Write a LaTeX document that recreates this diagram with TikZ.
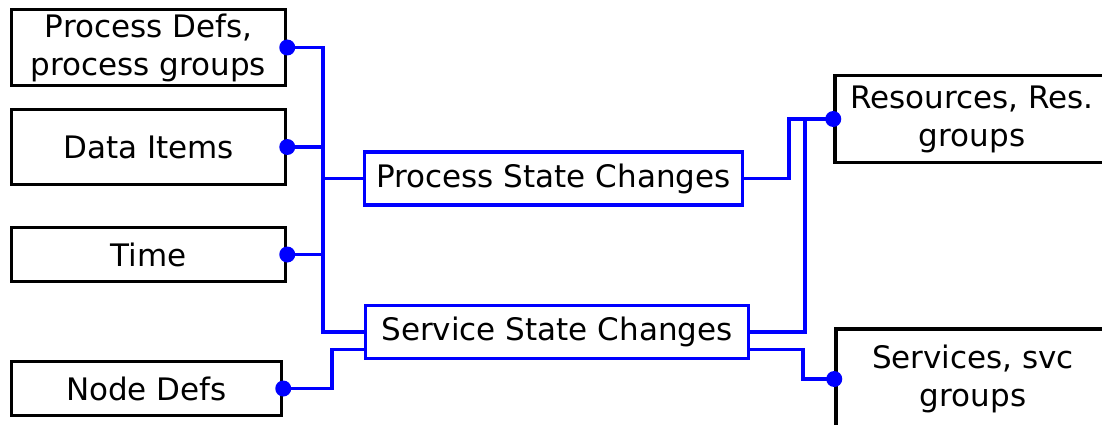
\documentclass[tikz,border=0pt]{standalone}
\usepackage{fontspec}
\setmainfont{DejaVu Sans}
\usetikzlibrary{calc}
\definecolor{linkblue}{RGB}{0,0,255}
\tikzset{
  srcbox/.style={draw=black, line width=3.5pt, inner sep=0pt, align=center,
    font=\fontsize{31}{38}\selectfont},
  chgbox/.style={draw=linkblue, line width=3.5pt, inner sep=0pt, align=center,
    font=\fontsize{31}{38}\selectfont},
  wire/.style={draw=linkblue, line width=3.5pt},
  dot/.style={fill=linkblue},
}
\begin{document}
\begin{tikzpicture}[x=1pt, y=-1pt]
  \clip (0,0) rectangle (1102,425);
  \useasboundingbox (0,0) rectangle (1102,425);

  % data sources on the left
  \node[srcbox, minimum width=274pt, minimum height=76pt] (pd) at (148.5,47.5) {Process Defs,\\process groups};
  \node[srcbox, minimum width=274pt, minimum height=75pt] (di) at (148.5,147) {Data Items};
  \node[srcbox, minimum width=274pt, minimum height=54pt] (tm) at (148.5,254.5) {Time};
  \node[srcbox, minimum width=270pt, minimum height=54pt] (nd) at (146.5,388.5) {Node Defs};

  % state change streams
  \node[chgbox, minimum width=378pt, minimum height=53pt] (psc) at (553.5,178.5) {Process State Changes};
  \node[chgbox, minimum width=383pt, minimum height=53pt] (ssc) at (557,332) {Service State Changes};

  % outputs on the right
  \node[srcbox, minimum width=274pt, minimum height=87pt] (res) at (972,119) {Resources, Res.\\groups};
  \node[srcbox, minimum width=274pt, minimum height=100pt] (svc) at (973,379) {Services, svc\\groups};

  % bus positions
  \coordinate (busL) at (323,0);
  \coordinate (busN) at (332,0);
  \coordinate (busP) at (789,0);
  \coordinate (busS) at (805,0);
  \coordinate (busV) at (803,0);
  \coordinate (sscLow) at ($(ssc.west)!0.62!(ssc.south west)$);
  \coordinate (sscLowE) at ($(ssc.east)!0.62!(ssc.south east)$);

  % left-hand bus
  \draw[wire] (pd.east) -| (busL |- ssc.west) -- (ssc.west);
  \draw[wire] (di.east) -- (busL |- di.east);
  \draw[wire] (tm.east) -- (busL |- tm.east);
  \draw[wire] (busL |- psc.west) -- (psc.west);
  \draw[wire] (nd.east) -| (busN |- sscLow) -- (sscLow);

  % right-hand connections
  \draw[wire] (psc.east) -| (busP |- res.west) -- (res.west);
  \draw[wire] (ssc.east) -| (busS |- res.west) -- (res.west);
  \draw[wire] (sscLowE) -| (busV |- svc.west) -- (svc.west);

  % joint dots
  \foreach \n in {pd.east, di.east, tm.east, nd.east, res.west, svc.west}
    \fill[dot] (\n) circle[radius=8pt];
\end{tikzpicture}
\end{document}
